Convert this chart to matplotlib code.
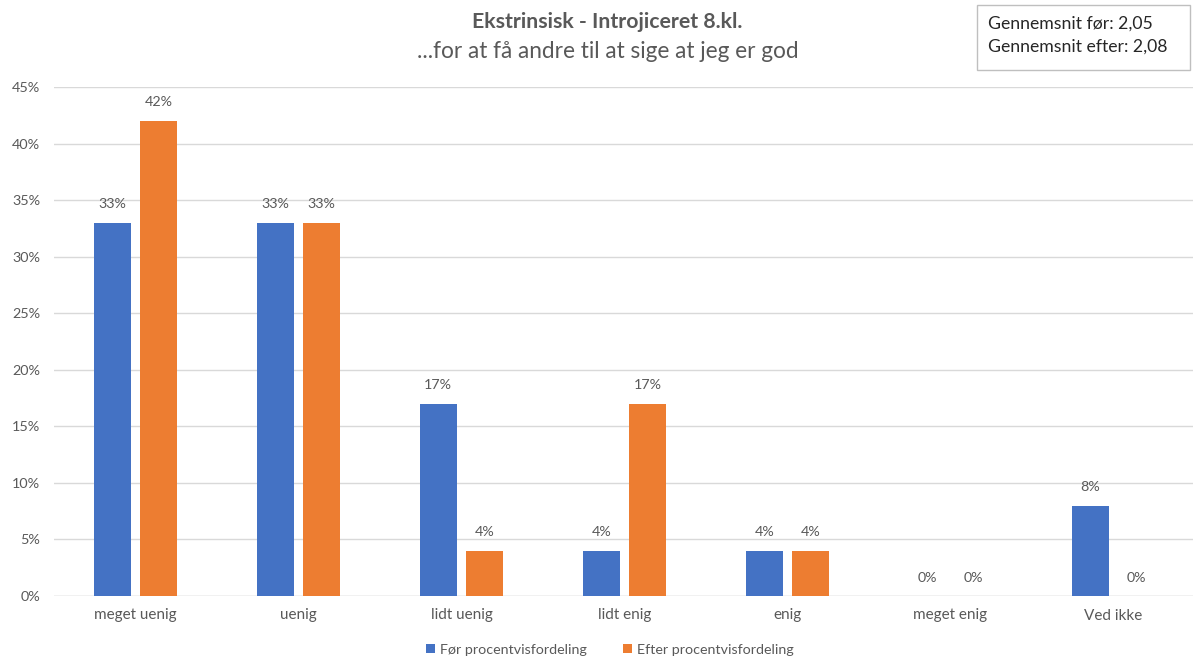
import numpy as np
import matplotlib
matplotlib.use("Agg")
import matplotlib.pyplot as plt
from matplotlib.ticker import MultipleLocator, FuncFormatter
from matplotlib.patches import Rectangle

plt.rcParams["font.family"] = ["Lato", "DejaVu Sans"]

# ------------------------------------------------------------
# Data
# ------------------------------------------------------------
kategorier = ["meget uenig", "uenig", "lidt uenig", "lidt enig",
              "enig", "meget enig", "Ved ikke"]
foer = [33, 33, 17, 4, 4, 0, 8]
efter = [42, 33, 4, 17, 4, 0, 0]
serie_navne = ["Før procentvisfordeling", "Efter procentvisfordeling"]
titel = "Ekstrinsisk - Introjiceret 8.kl."
undertitel = "...for at få andre til at sige at jeg er god"
gennemsnit = ["Gennemsnit før: 2,05", "Gennemsnit efter: 2,08"]

BLAA = "#4472C4"
ORANGE = "#ED7D31"
GRAA = "#595959"
GRID = "#D9D9D9"

# ------------------------------------------------------------
# Figur
# ------------------------------------------------------------
fig = plt.figure(figsize=(11.93, 6.60), dpi=100, facecolor="white")
ax = fig.add_axes([54 / 1193, 1 - 596 / 660, 1141 / 1193, 509 / 660])

x = np.arange(len(kategorier))
bredde = 0.226
afst = 0.285 / 2

b1 = ax.bar(x - afst, foer, bredde, color=BLAA, label=serie_navne[0], zorder=3)
b2 = ax.bar(x + afst, efter, bredde, color=ORANGE, label=serie_navne[1], zorder=3)

for bars, vals in ((b1, foer), (b2, efter)):
    for rect, v in zip(bars, vals):
        ax.annotate(f"{v}%", (rect.get_x() + rect.get_width() / 2, v),
                    xytext=(0, 9), textcoords="offset points",
                    ha="center", va="bottom", fontsize=10.3, color=GRAA)

ax.set_xlim(-0.5, len(kategorier) - 0.5)
ax.set_ylim(0, 45)
ax.yaxis.set_major_locator(MultipleLocator(5))
ax.yaxis.set_major_formatter(FuncFormatter(lambda v, p: f"{v:.0f}%"))
ax.grid(axis="y", color=GRID, linewidth=1, zorder=0)
ax.set_xticks(x)
ax.set_xticklabels(kategorier)
ax.tick_params(axis="y", length=0, labelsize=10.4, colors=GRAA, pad=10)
ax.tick_params(axis="x", length=0, labelsize=11, colors=GRAA, pad=9)
for s in ax.spines.values():
    s.set_visible(False)
ax.axhline(0, color=GRID, linewidth=1, zorder=1)

# Titler
fig.text(607 / 1193, 1 - 22 / 660, titel, ha="center", va="center",
         fontsize=15.3, fontweight="bold", color=GRAA)
fig.text(608 / 1193, 1 - 52 / 660, undertitel, ha="center", va="center",
         fontsize=16.3, color=GRAA)

# Boks med gennemsnit
fig.patches.append(Rectangle((977 / 1193, 1 - 70 / 660), 213 / 1193, 65 / 660,
                             transform=fig.transFigure, facecolor="white",
                             edgecolor="#BFBFBF", linewidth=1))
fig.text(988 / 1193, 1 - 24 / 660, gennemsnit[0], ha="left", va="center",
         fontsize=12.7, color="#262626")
fig.text(988 / 1193, 1 - 47 / 660, gennemsnit[1], ha="left", va="center",
         fontsize=12.7, color="#262626")

# Legende
fig.legend(handles=[b1, b2], loc="center", bbox_to_anchor=(610 / 1193, 1 - 650 / 660),
           ncol=2, frameon=False, fontsize=10.3, labelcolor=GRAA,
           handlelength=0.6, handleheight=0.6, handletextpad=0.4, columnspacing=2.5)

fig.savefig("out.png", dpi=100, facecolor="white")
